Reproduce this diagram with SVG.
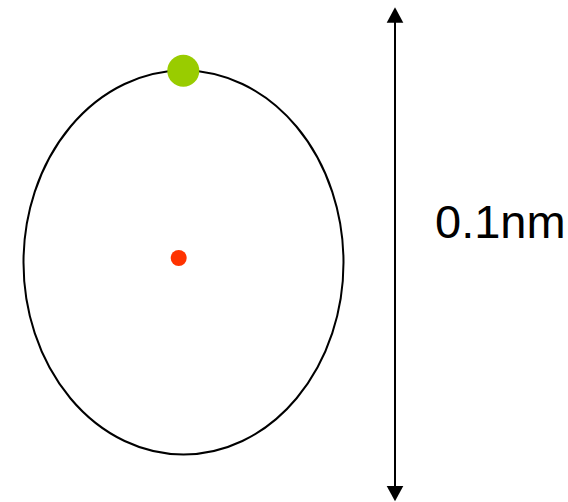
<svg xmlns="http://www.w3.org/2000/svg" width="568" height="502" viewBox="0 0 568 502">
<style>
.ln{stroke:#000;stroke-width:2;fill:none}
.lbl{font-family:"Liberation Sans",Arial,sans-serif;font-size:47px;fill:#000}
</style>
<rect width="568" height="502" fill="#fff"/>
<g id="orbit"><ellipse class="ln" cx="183.5" cy="262.5" rx="160" ry="192"/></g>
<g id="nucleus"><circle cx="178.7" cy="258" r="8" fill="#ff3300"/></g>
<g id="electron"><circle cx="183.3" cy="70.7" r="16" fill="#99cc00"/></g>
<g id="connectors">
<line class="ln" x1="395" y1="20" x2="395" y2="488"/>
<polygon points="395,7.3 386.7,22.7 403.3,22.7" fill="#000"/>
<polygon points="395,501.3 386.7,486 403.3,486" fill="#000"/>
</g>
<g id="label"><text class="lbl" x="435" y="238">0.1nm</text></g>
</svg>
